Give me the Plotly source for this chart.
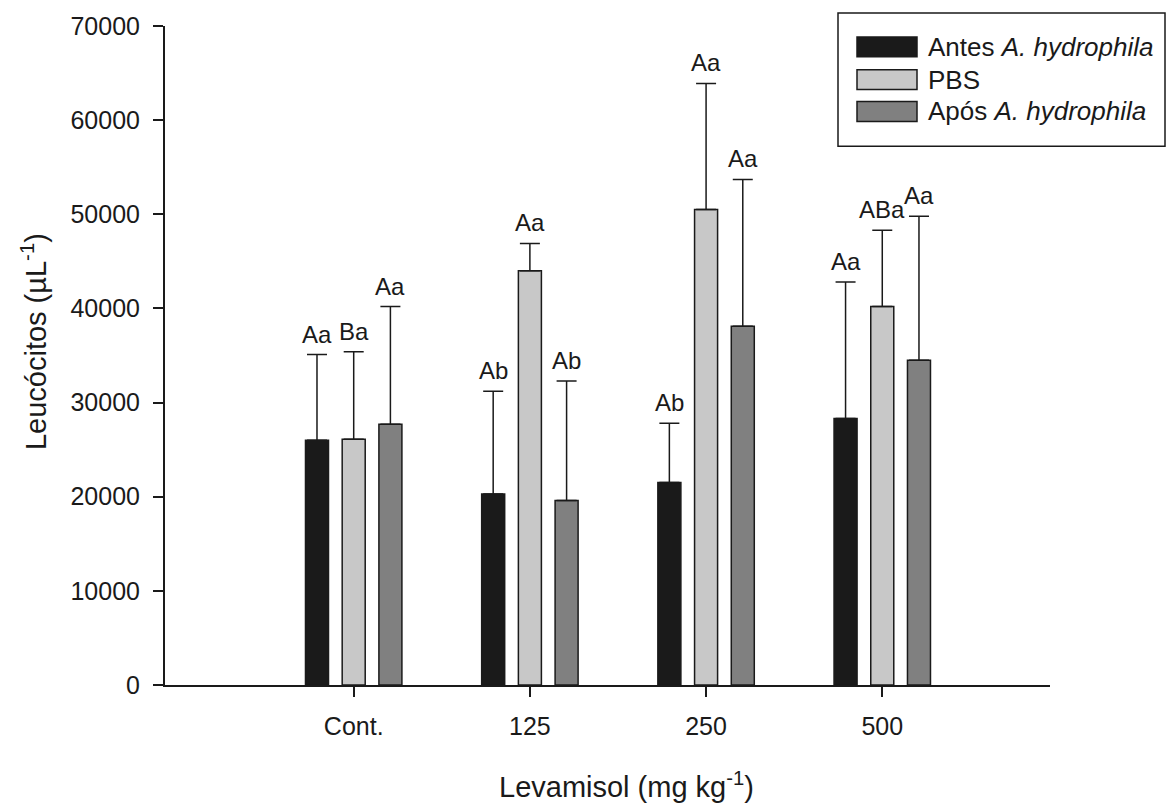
import plotly.graph_objects as go

categories = ["Cont.", "125", "250", "500"]
series_names = ["Antes <i>A. hydrophila</i>", "PBS", "Após <i>A. hydrophila</i>"]
antes = [26000, 20300, 21500, 28300]
pbs = [26100, 44000, 50500, 40200]
apos = [27700, 19600, 38100, 34500]
antes_err = [9100, 10900, 6300, 14500]
pbs_err = [9300, 2900, 13400, 8100]
apos_err = [12500, 12700, 15600, 15300]
antes_lbl = ["Aa", "Ab", "Ab", "Aa"]
pbs_lbl = ["Ba", "Aa", "Aa", "ABa"]
apos_lbl = ["Aa", "Ab", "Aa", "Aa"]
y_ticks = [0, 10000, 20000, 30000, 40000, 50000, 60000, 70000]

colors = ["#1a1a1a", "#c8c8c8", "#808080"]
FONT = "Liberation Sans, Arial, sans-serif"

W, H = 1167, 810
L, R, T, B = 165, 117, 22, 125
pw, ph = W - L - R, H - T - B

vals = [antes, pbs, apos]
errs = [antes_err, pbs_err, apos_err]
lbls = [antes_lbl, pbs_lbl, apos_lbl]

fig = go.Figure()
xi = list(range(len(categories)))
for k in range(3):
    fig.add_trace(go.Bar(
        x=xi, y=vals[k], name=series_names[k],
        marker=dict(color=colors[k], line=dict(color="#1a1a1a", width=1.5)),
        error_y=dict(type="data", array=errs[k], arrayminus=[0]*4, symmetric=False,
                     color="#1a1a1a", thickness=1.5, width=10),
        showlegend=False,
    ))

slot = (1 - 0.375) / 3
offsets = [-slot, 0, slot]
for k in range(3):
    for i in range(len(categories)):
        fig.add_annotation(x=i + offsets[k], y=vals[k][i] + errs[k][i], text=lbls[k][i],
                           showarrow=False, yanchor="bottom", yshift=5,
                           font=dict(size=24, color="#1a1a1a", family=FONT))

# legend (custom box)
def px2x(p):
    return (p - L) / pw
def py2y(p):
    return (H - B - p) / ph

fig.add_shape(type="rect", xref="paper", yref="paper",
              x0=px2x(838), x1=px2x(1165), y0=py2y(143), y1=py2y(9),
              line=dict(color="#1a1a1a", width=1.5), fillcolor="white", layer="above")
rows = [43, 76, 108]
for k in range(3):
    cy = rows[k]
    fig.add_shape(type="rect", xref="paper", yref="paper",
                  x0=px2x(857), x1=px2x(917), y0=py2y(cy + 10), y1=py2y(cy - 10),
                  line=dict(color="#1a1a1a", width=1.5), fillcolor=colors[k], layer="above")
    fig.add_annotation(xref="paper", yref="paper", x=px2x(926), y=py2y(cy),
                       text=series_names[k], showarrow=False, xanchor="left", yanchor="middle",
                       font=dict(size=26, color="#1a1a1a", family=FONT))

# axis titles
fig.add_annotation(xref="paper", yref="paper", x=px2x(626), y=py2y(786),
                   text="Levamisol (mg kg<sup>-1</sup>)", showarrow=False,
                   xanchor="center", yanchor="middle",
                   font=dict(size=29, color="#1a1a1a", family=FONT))
fig.add_annotation(xref="paper", yref="paper", x=px2x(34), y=py2y(340),
                   text="Leucócitos (µL<sup>-1</sup>)", showarrow=False, textangle=-90,
                   xanchor="center", yanchor="middle",
                   font=dict(size=29, color="#1a1a1a", family=FONT))

fig.update_layout(
    width=W, height=H,
    margin=dict(l=L, r=R, t=T, b=B, pad=0),
    paper_bgcolor="white", plot_bgcolor="white",
    barmode="group", bargap=0.375, bargroupgap=0.373,
    font=dict(family=FONT, size=25, color="#1a1a1a"),
    xaxis=dict(range=[-1.071, 3.952], tickvals=xi, ticktext=categories,
               showline=True, linecolor="#1a1a1a", linewidth=2, ticks="outside",
               ticklen=10, tickwidth=1.5, tickcolor="#1a1a1a", showgrid=False,
               zeroline=False, ticklabelstandoff=8, tickfont=dict(size=25)),
    yaxis=dict(range=[0, 70000], tickvals=y_ticks, ticktext=[str(v) for v in y_ticks],
               showline=True, linecolor="#1a1a1a", linewidth=2, ticks="outside",
               ticklen=10, tickwidth=1.5, tickcolor="#1a1a1a", showgrid=False,
               zeroline=False, ticklabelstandoff=8, tickfont=dict(size=25)),
)

fig.write_html("out.html")
